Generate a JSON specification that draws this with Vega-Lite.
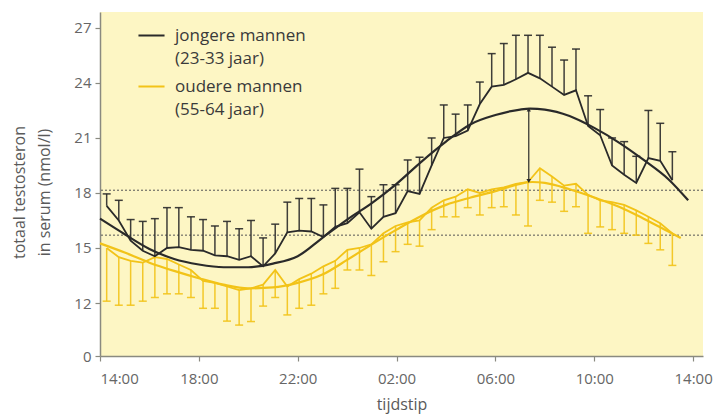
{
  "$schema": "https://vega.github.io/schema/vega-lite/v6.json",
  "width": 603,
  "height": 344,
  "autosize": {"type": "none"},
  "padding": {"left": 100, "top": 12, "right": 16, "bottom": 62},
  "background": "white",
  "config": {
    "view": {"fill": "#fdf6c4", "stroke": null},
    "font": "Open Sans"
  },
  "datasets": {
    "ref": [{"y": 18.15}, {"y": 15.7}],
    "obs": [
      {"t": 0.27, "groep": "oudere mannen", "gem": 15.0, "grens": 12.1},
      {"t": 0.76, "groep": "oudere mannen", "gem": 14.5, "grens": 11.5},
      {"t": 1.24, "groep": "oudere mannen", "gem": 14.3, "grens": 11.5},
      {"t": 1.73, "groep": "oudere mannen", "gem": 14.2, "grens": 12.1},
      {"t": 2.22, "groep": "oudere mannen", "gem": 14.5, "grens": 12.3},
      {"t": 2.71, "groep": "oudere mannen", "gem": 14.4, "grens": 12.5},
      {"t": 3.19, "groep": "oudere mannen", "gem": 14.1, "grens": 12.5},
      {"t": 3.68, "groep": "oudere mannen", "gem": 13.8, "grens": 12.3},
      {"t": 4.17, "groep": "oudere mannen", "gem": 13.2, "grens": 10.8},
      {"t": 4.65, "groep": "oudere mannen", "gem": 13.1, "grens": 10.8},
      {"t": 5.14, "groep": "oudere mannen", "gem": 12.9, "grens": 7.9},
      {"t": 5.63, "groep": "oudere mannen", "gem": 12.7, "grens": 7.0},
      {"t": 6.11, "groep": "oudere mannen", "gem": 12.8, "grens": 7.8},
      {"t": 6.6, "groep": "oudere mannen", "gem": 13.0, "grens": 11.3},
      {"t": 7.09, "groep": "oudere mannen", "gem": 13.8, "grens": 12.3},
      {"t": 7.58, "groep": "oudere mannen", "gem": 12.9, "grens": 9.3},
      {"t": 8.06, "groep": "oudere mannen", "gem": 13.3, "grens": 10.8},
      {"t": 8.55, "groep": "oudere mannen", "gem": 13.6, "grens": 11.5},
      {"t": 9.04, "groep": "oudere mannen", "gem": 14.0, "grens": 12.5},
      {"t": 9.52, "groep": "oudere mannen", "gem": 14.3, "grens": 12.8},
      {"t": 10.01, "groep": "oudere mannen", "gem": 14.9, "grens": 13.8},
      {"t": 10.5, "groep": "oudere mannen", "gem": 15.0, "grens": 13.8},
      {"t": 10.98, "groep": "oudere mannen", "gem": 15.2, "grens": 13.5},
      {"t": 11.47, "groep": "oudere mannen", "gem": 15.8, "grens": 14.25},
      {"t": 11.96, "groep": "oudere mannen", "gem": 16.2, "grens": 14.8},
      {"t": 12.45, "groep": "oudere mannen", "gem": 16.4, "grens": 15.2},
      {"t": 12.93, "groep": "oudere mannen", "gem": 16.5, "grens": 15.1},
      {"t": 13.42, "groep": "oudere mannen", "gem": 17.2, "grens": 16.0},
      {"t": 13.91, "groep": "oudere mannen", "gem": 17.6, "grens": 16.7},
      {"t": 14.39, "groep": "oudere mannen", "gem": 17.8, "grens": 16.7},
      {"t": 14.88, "groep": "oudere mannen", "gem": 18.2, "grens": 17.2},
      {"t": 15.37, "groep": "oudere mannen", "gem": 18.0, "grens": 16.8},
      {"t": 15.85, "groep": "oudere mannen", "gem": 18.2, "grens": 17.2},
      {"t": 16.34, "groep": "oudere mannen", "gem": 18.3, "grens": 17.25},
      {"t": 16.83, "groep": "oudere mannen", "gem": 18.5, "grens": 16.8},
      {"t": 17.32, "groep": "oudere mannen", "gem": 18.6, "grens": 16.2},
      {"t": 17.8, "groep": "oudere mannen", "gem": 19.35, "grens": 17.6},
      {"t": 18.29, "groep": "oudere mannen", "gem": 18.9, "grens": 17.5},
      {"t": 18.78, "groep": "oudere mannen", "gem": 18.4, "grens": 17.0},
      {"t": 19.26, "groep": "oudere mannen", "gem": 18.5, "grens": 17.25},
      {"t": 19.75, "groep": "oudere mannen", "gem": 17.9, "grens": 15.8},
      {"t": 20.24, "groep": "oudere mannen", "gem": 17.6, "grens": 16.15},
      {"t": 20.72, "groep": "oudere mannen", "gem": 17.5, "grens": 16.0},
      {"t": 21.21, "groep": "oudere mannen", "gem": 17.35, "grens": 15.8},
      {"t": 21.7, "groep": "oudere mannen", "gem": 17.05, "grens": 15.7},
      {"t": 22.19, "groep": "oudere mannen", "gem": 16.7, "grens": 15.25},
      {"t": 22.67, "groep": "oudere mannen", "gem": 16.35, "grens": 14.9},
      {"t": 23.16, "groep": "oudere mannen", "gem": 15.8, "grens": 14.05},
      {"t": 0.27, "groep": "jongere mannen", "gem": 17.3, "grens": 17.95},
      {"t": 0.76, "groep": "jongere mannen", "gem": 16.5, "grens": 17.6},
      {"t": 1.24, "groep": "jongere mannen", "gem": 15.4, "grens": 16.55},
      {"t": 1.73, "groep": "jongere mannen", "gem": 14.85, "grens": 16.45},
      {"t": 2.22, "groep": "jongere mannen", "gem": 14.55, "grens": 16.6},
      {"t": 2.71, "groep": "jongere mannen", "gem": 15.0, "grens": 17.2},
      {"t": 3.19, "groep": "jongere mannen", "gem": 15.05, "grens": 17.2},
      {"t": 3.68, "groep": "jongere mannen", "gem": 14.9, "grens": 16.7},
      {"t": 4.17, "groep": "jongere mannen", "gem": 14.85, "grens": 16.55},
      {"t": 4.65, "groep": "jongere mannen", "gem": 14.6, "grens": 16.2},
      {"t": 5.14, "groep": "jongere mannen", "gem": 14.55, "grens": 16.45},
      {"t": 5.63, "groep": "jongere mannen", "gem": 14.35, "grens": 16.05},
      {"t": 6.11, "groep": "jongere mannen", "gem": 14.55, "grens": 16.5},
      {"t": 6.6, "groep": "jongere mannen", "gem": 14.0, "grens": 15.55},
      {"t": 7.09, "groep": "jongere mannen", "gem": 14.7, "grens": 16.3},
      {"t": 7.58, "groep": "jongere mannen", "gem": 15.85, "grens": 17.5},
      {"t": 8.06, "groep": "jongere mannen", "gem": 15.95, "grens": 17.7},
      {"t": 8.55, "groep": "jongere mannen", "gem": 15.9, "grens": 17.7},
      {"t": 9.04, "groep": "jongere mannen", "gem": 15.6, "grens": 17.35},
      {"t": 9.52, "groep": "jongere mannen", "gem": 16.15, "grens": 18.25},
      {"t": 10.01, "groep": "jongere mannen", "gem": 16.35, "grens": 18.25},
      {"t": 10.5, "groep": "jongere mannen", "gem": 16.95, "grens": 19.3},
      {"t": 10.98, "groep": "jongere mannen", "gem": 16.05, "grens": 17.8},
      {"t": 11.47, "groep": "jongere mannen", "gem": 16.7, "grens": 18.45},
      {"t": 11.96, "groep": "jongere mannen", "gem": 16.9, "grens": 18.45},
      {"t": 12.45, "groep": "jongere mannen", "gem": 18.1, "grens": 19.8},
      {"t": 12.93, "groep": "jongere mannen", "gem": 17.95, "grens": 19.95},
      {"t": 13.42, "groep": "jongere mannen", "gem": 19.5, "grens": 21.0},
      {"t": 13.91, "groep": "jongere mannen", "gem": 21.0, "grens": 22.8},
      {"t": 14.39, "groep": "jongere mannen", "gem": 21.1, "grens": 22.3},
      {"t": 14.88, "groep": "jongere mannen", "gem": 21.4, "grens": 22.8},
      {"t": 15.37, "groep": "jongere mannen", "gem": 22.85, "grens": 24.05},
      {"t": 15.85, "groep": "jongere mannen", "gem": 23.8, "grens": 25.6},
      {"t": 16.34, "groep": "jongere mannen", "gem": 23.9, "grens": 26.15},
      {"t": 16.83, "groep": "jongere mannen", "gem": 24.2, "grens": 26.6},
      {"t": 17.32, "groep": "jongere mannen", "gem": 24.55, "grens": 26.6},
      {"t": 17.8, "groep": "jongere mannen", "gem": 24.25, "grens": 26.6},
      {"t": 18.29, "groep": "jongere mannen", "gem": 23.8, "grens": 25.95},
      {"t": 18.78, "groep": "jongere mannen", "gem": 23.35, "grens": 25.25},
      {"t": 19.26, "groep": "jongere mannen", "gem": 23.6, "grens": 25.85},
      {"t": 19.75, "groep": "jongere mannen", "gem": 21.65, "grens": 23.3},
      {"t": 20.24, "groep": "jongere mannen", "gem": 21.15, "grens": 22.55},
      {"t": 20.72, "groep": "jongere mannen", "gem": 19.5, "grens": 21.0},
      {"t": 21.21, "groep": "jongere mannen", "gem": 19.0, "grens": 20.8},
      {"t": 21.7, "groep": "jongere mannen", "gem": 18.55, "grens": 20.0},
      {"t": 22.19, "groep": "jongere mannen", "gem": 19.9, "grens": 22.5},
      {"t": 22.67, "groep": "jongere mannen", "gem": 19.75, "grens": 21.8},
      {"t": 23.16, "groep": "jongere mannen", "gem": 18.7, "grens": 20.25}
    ],
    "fit": [
      {"t": 0, "groep": "oudere mannen", "fit": 15.25},
      {"t": 1, "groep": "oudere mannen", "fit": 14.75},
      {"t": 2, "groep": "oudere mannen", "fit": 14.2},
      {"t": 3, "groep": "oudere mannen", "fit": 13.75},
      {"t": 4, "groep": "oudere mannen", "fit": 13.35},
      {"t": 5, "groep": "oudere mannen", "fit": 13.0},
      {"t": 6, "groep": "oudere mannen", "fit": 12.8},
      {"t": 7, "groep": "oudere mannen", "fit": 12.85},
      {"t": 8, "groep": "oudere mannen", "fit": 13.1},
      {"t": 9, "groep": "oudere mannen", "fit": 13.55},
      {"t": 10, "groep": "oudere mannen", "fit": 14.35},
      {"t": 11, "groep": "oudere mannen", "fit": 15.2},
      {"t": 12, "groep": "oudere mannen", "fit": 16.0},
      {"t": 13, "groep": "oudere mannen", "fit": 16.75},
      {"t": 14, "groep": "oudere mannen", "fit": 17.35},
      {"t": 15, "groep": "oudere mannen", "fit": 17.75},
      {"t": 16, "groep": "oudere mannen", "fit": 18.1},
      {"t": 17, "groep": "oudere mannen", "fit": 18.5},
      {"t": 17.5, "groep": "oudere mannen", "fit": 18.6},
      {"t": 18, "groep": "oudere mannen", "fit": 18.55},
      {"t": 19, "groep": "oudere mannen", "fit": 18.2},
      {"t": 20, "groep": "oudere mannen", "fit": 17.75},
      {"t": 21, "groep": "oudere mannen", "fit": 17.25},
      {"t": 22, "groep": "oudere mannen", "fit": 16.6},
      {"t": 23, "groep": "oudere mannen", "fit": 15.9},
      {"t": 23.5, "groep": "oudere mannen", "fit": 15.55},
      {"t": 0, "groep": "jongere mannen", "fit": 16.6},
      {"t": 1, "groep": "jongere mannen", "fit": 15.75},
      {"t": 2, "groep": "jongere mannen", "fit": 14.95},
      {"t": 3, "groep": "jongere mannen", "fit": 14.4},
      {"t": 4, "groep": "jongere mannen", "fit": 14.1},
      {"t": 5, "groep": "jongere mannen", "fit": 13.95},
      {"t": 6, "groep": "jongere mannen", "fit": 13.95},
      {"t": 7, "groep": "jongere mannen", "fit": 14.15},
      {"t": 8, "groep": "jongere mannen", "fit": 14.55},
      {"t": 9, "groep": "jongere mannen", "fit": 15.55},
      {"t": 10, "groep": "jongere mannen", "fit": 16.55},
      {"t": 11, "groep": "jongere mannen", "fit": 17.45},
      {"t": 12, "groep": "jongere mannen", "fit": 18.5},
      {"t": 13, "groep": "jongere mannen", "fit": 19.7},
      {"t": 14, "groep": "jongere mannen", "fit": 20.8},
      {"t": 15, "groep": "jongere mannen", "fit": 21.75},
      {"t": 16, "groep": "jongere mannen", "fit": 22.25},
      {"t": 17, "groep": "jongere mannen", "fit": 22.55},
      {"t": 17.4, "groep": "jongere mannen", "fit": 22.6},
      {"t": 18, "groep": "jongere mannen", "fit": 22.55},
      {"t": 19, "groep": "jongere mannen", "fit": 22.2},
      {"t": 20, "groep": "jongere mannen", "fit": 21.55},
      {"t": 21, "groep": "jongere mannen", "fit": 20.75},
      {"t": 22, "groep": "jongere mannen", "fit": 19.8},
      {"t": 23, "groep": "jongere mannen", "fit": 18.75},
      {"t": 23.8, "groep": "jongere mannen", "fit": 17.6}
    ],
    "pijl": [{"t": 17.35, "boven": 22.55, "onder": 18.65}]
  },
  "layer": [
    {
      "data": {"name": "ref"},
      "mark": {"type": "rule", "strokeDash": [2, 2], "color": "#555555", "strokeWidth": 1},
      "encoding": {
        "y": {
          "field": "y", "type": "quantitative",
          "scale": {"domain": [0, 12, 27.87], "range": [344, 291, 0], "zero": false, "nice": false},
          "axis": {
            "values": [0, 6, 12, 13.5, 15, 16.5, 18, 19.5, 21, 22.5, 24, 25.5, 27],
            "labelExpr": "indexof([0, 12, 15, 18, 21, 24, 27], datum.value) >= 0 ? datum.label : ''",
            "grid": false,
            "tickSize": 5, "tickWidth": 1.2, "tickColor": "#8a8a80",
            "domainColor": "#8a8a80", "domainWidth": 1.5,
            "labelFontSize": 15, "labelColor": "#666666", "labelPadding": 4,
            "title": ["totaal testosteron", "in serum (nmol/l)"],
            "titleFontSize": 16, "titleFontWeight": "normal", "titleColor": "#5a5a5a",
            "titleLineHeight": 25, "titleX": -73, "titleY": 180
          }
        }
      }
    },
    {
      "data": {"name": "obs"},
      "mark": {"type": "rule", "strokeWidth": 1.5, "opacity": 0.9},
      "encoding": {
        "x": {
          "field": "t", "type": "quantitative",
          "scale": {"domain": [0, 24.4], "zero": false, "nice": false},
          "axis": {
            "values": [0, 4, 8, 12, 16, 20, 24],
            "labelExpr": "['14:00','18:00','22:00','02:00','06:00','10:00','14:00'][round(datum.value/4)]",
            "grid": false,
            "tickSize": 5, "tickWidth": 1.2, "tickColor": "#8a8a80",
            "domainColor": "#8a8a80", "domainWidth": 1.5,
            "labelFontSize": 15, "labelColor": "#666666", "labelPadding": 10,
            "title": "tijdstip", "titleFontSize": 16, "titleFontWeight": "normal",
            "titleColor": "#5a5a5a", "titlePadding": 10
          }
        },
        "y": {"field": "gem", "type": "quantitative"},
        "y2": {"field": "grens"},
        "color": {
          "field": "groep", "type": "nominal",
          "scale": {"domain": ["jongere mannen", "oudere mannen"], "range": ["#2a2a2a", "#f2c318"]}
        }
      }
    },
    {
      "data": {"name": "obs"},
      "mark": {"type": "tick", "orient": "horizontal", "size": 8, "thickness": 1.5, "opacity": 0.9},
      "encoding": {
        "x": {"field": "t", "type": "quantitative"},
        "y": {"field": "grens", "type": "quantitative"},
        "color": {"field": "groep", "type": "nominal"}
      }
    },
    {
      "data": {"name": "fit"},
      "mark": {"type": "line", "strokeWidth": 2.2, "interpolate": "monotone"},
      "encoding": {
        "x": {"field": "t", "type": "quantitative"},
        "y": {"field": "fit", "type": "quantitative"},
        "color": {"field": "groep", "type": "nominal"}
      }
    },
    {
      "data": {"name": "obs"},
      "mark": {"type": "line", "strokeWidth": 1.8},
      "encoding": {
        "x": {"field": "t", "type": "quantitative"},
        "y": {"field": "gem", "type": "quantitative"},
        "color": {
          "field": "groep", "type": "nominal",
          "legend": {
            "orient": "none", "legendX": 37, "legendY": 9, "title": null,
            "symbolType": "stroke", "symbolStrokeWidth": 2, "symbolSize": 680,
            "labelFontSize": 17, "labelColor": "#3a3a3a", "labelLimit": 300,
            "labelOffset": 9, "rowPadding": 5, "padding": 0, "labelBaseline": "alphabetic",
            "labelExpr": "datum.label == 'jongere mannen' ? ['jongere mannen', '(23-33 jaar)'] : ['oudere mannen', '(55-64 jaar)']",
            "encode": {"labels": {"update": {"lineHeight": {"value": 23}, "dy": {"value": 5}}}}
          }
        }
      }
    },
    {
      "data": {"name": "pijl"},
      "mark": {"type": "rule", "color": "#2a2a2a", "strokeWidth": 1.2},
      "encoding": {
        "x": {"field": "t", "type": "quantitative"},
        "y": {"field": "boven", "type": "quantitative"},
        "y2": {"field": "onder"}
      }
    },
    {
      "data": {"name": "pijl"},
      "mark": {"type": "point", "shape": "triangle-up", "filled": true, "color": "#2a2a2a", "size": 18, "opacity": 1},
      "encoding": {
        "x": {"field": "t", "type": "quantitative"},
        "y": {"field": "boven", "type": "quantitative"}
      }
    },
    {
      "data": {"name": "pijl"},
      "mark": {"type": "point", "shape": "triangle-down", "filled": true, "color": "#2a2a2a", "size": 22, "opacity": 1},
      "encoding": {
        "x": {"field": "t", "type": "quantitative"},
        "y": {"field": "onder", "type": "quantitative"}
      }
    }
  ]
}
